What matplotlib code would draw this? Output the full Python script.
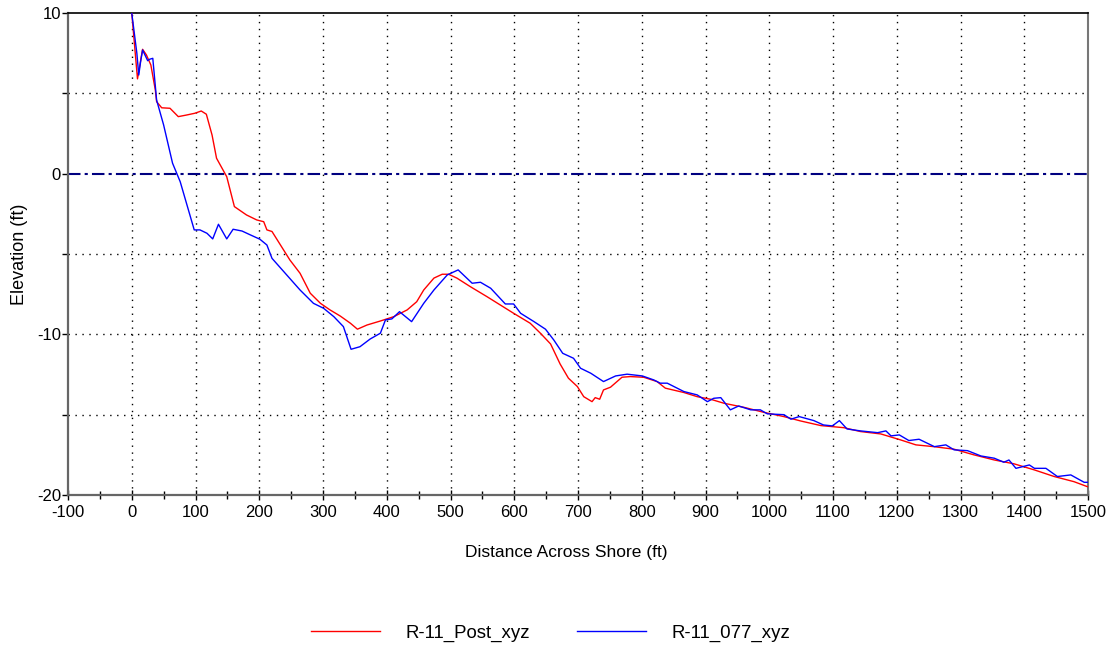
import numpy as np
import matplotlib
matplotlib.use("Agg")
import matplotlib.pyplot as plt
from matplotlib.ticker import MultipleLocator

plt.rcParams['font.family'] = ['Liberation Sans', 'DejaVu Sans']
plt.rcParams['axes.unicode_minus'] = False

# profile R-11_Post_xyz (red)
post_x = [0, 9, 17, 23, 30, 37, 39, 47, 60, 73, 86, 99, 109, 117, 126, 133, 149,
          161, 180, 196, 207, 212, 220, 248, 264, 280, 296, 311, 327, 343, 354,
          369, 390, 411, 432, 447, 458, 474, 487, 497, 510, 531, 557, 578, 599,
          625, 641, 657, 672, 685, 699, 709, 722, 727, 734, 740, 751, 769, 782,
          803, 824, 837, 866, 887, 908, 929, 960, 991, 1023, 1049, 1081, 1117,
          1143, 1175, 1206, 1230, 1258, 1290, 1321, 1353, 1384, 1416, 1447,
          1478, 1499]
post_y = [10.0, 5.9, 7.74, 7.39, 6.76, 5.2, 4.48, 4.1, 4.07, 3.55, 3.65, 3.76,
          3.9, 3.7, 2.4, 0.96, -0.19, -2.05, -2.57, -2.88, -2.99, -3.5, -3.6,
          -5.37, -6.2, -7.44, -8.07, -8.48, -8.86, -9.31, -9.68, -9.42, -9.17,
          -8.9, -8.48, -7.97, -7.24, -6.5, -6.26, -6.26, -6.5, -7.03, -7.65,
          -8.17, -8.69, -9.31, -9.93, -10.6, -11.85, -12.73, -13.25, -13.88,
          -14.19, -13.94, -14.04, -13.46, -13.29, -12.67, -12.63, -12.67,
          -12.94, -13.35, -13.62, -13.88, -14.04, -14.29, -14.54, -14.85,
          -15.12, -15.39, -15.68, -15.81, -16.05, -16.2, -16.57, -16.88,
          -16.99, -17.15, -17.5, -17.82, -18.06, -18.44, -18.85, -19.17, -19.48]

# profile R-11_077_xyz (blue)
pre_x = [0, 8, 11, 14, 17, 25, 28, 33, 39, 50, 64, 76, 98, 107, 118, 127, 136,
         149, 159, 173, 186, 201, 212, 220, 264, 285, 301, 317, 332, 344, 358,
         374, 390, 398, 408, 420, 439, 458, 474, 495, 512, 534, 547, 563, 586,
         599, 610, 631, 649, 662, 676, 693, 704, 720, 740, 759, 777, 801, 819,
         829, 840, 866, 887, 903, 913, 924, 939, 952, 971, 986, 997, 1023, 1034,
         1047, 1070, 1085, 1099, 1110, 1122, 1143, 1170, 1183, 1191, 1204,
         1219, 1235, 1259, 1277, 1290, 1311, 1332, 1353, 1368, 1376, 1387,
         1408, 1416, 1434, 1452, 1473, 1494, 1499]
pre_y = [10.0, 7.5, 6.14, 7.0, 7.7, 7.03, 7.12, 7.18, 4.58, 3.03, 0.65, -0.5,
         -3.5, -3.5, -3.71, -4.06, -3.15, -4.06, -3.46, -3.57, -3.81, -4.08,
         -4.44, -5.27, -7.24, -8.07, -8.38, -8.9, -9.52, -10.93, -10.77, -10.29,
         -9.93, -9.1, -9.04, -8.59, -9.21, -8.07, -7.24, -6.3, -5.99, -6.82,
         -6.76, -7.13, -8.11, -8.11, -8.69, -9.21, -9.68, -10.35, -11.18,
         -11.49, -12.11, -12.42, -12.94, -12.59, -12.48, -12.59, -12.84,
         -13.04, -13.04, -13.56, -13.77, -14.19, -13.98, -13.94, -14.7, -14.46,
         -14.7, -14.7, -14.95, -15.0, -15.28, -15.12, -15.37, -15.64, -15.7,
         -15.37, -15.89, -16.01, -16.12, -16.01, -16.32, -16.26, -16.61,
         -16.53, -16.99, -16.88, -17.19, -17.24, -17.57, -17.71, -17.96,
         -17.82, -18.34, -18.13, -18.34, -18.34, -18.85, -18.75, -19.21, -19.21]

x_ticks = list(range(-100, 1501, 100))
y_ticks = [-20, -10, 0, 10]


fig = plt.figure(figsize=(11.12, 6.58), dpi=100)
ax = fig.add_axes([68 / 1112, 1 - 495 / 658, 1020 / 1112, 482 / 658])

ax.plot(post_x, post_y, color='#ff0000', lw=1.0, label='R-11_Post_xyz', zorder=3)
ax.plot(pre_x, pre_y, color='#0000ff', lw=1.0, label='R-11_077_xyz', zorder=3)
ax.axhline(0, color='#000080', lw=1.5, ls=(0, (6, 2, 1.5, 2)), zorder=2)

ax.set_xlim(-100, 1500)
ax.set_ylim(-20, 10)
ax.set_xticks(x_ticks)
ax.set_yticks(y_ticks)
ax.xaxis.set_minor_locator(MultipleLocator(50))
ax.yaxis.set_minor_locator(MultipleLocator(5))

# dotted grid at every 100 ft and every 5 ft
for gx in x_ticks[1:-1]:
    ax.axvline(gx, color='black', lw=1.0, ls=(0, (1, 4)), zorder=1)
for gy in [-15, -10, -5, 5]:
    ax.axhline(gy, color='black', lw=1.0, ls=(0, (1, 4)), zorder=1)

ax.tick_params(axis='x', which='major', direction='inout', length=7,
               width=1, labelsize=12, colors='black')
ax.tick_params(axis='x', which='minor', direction='inout', length=6, width=1)
ax.tick_params(axis='y', which='both', direction='out', length=4, width=1,
               labelsize=12, pad=1)

for side in ['left', 'bottom']:
    ax.spines[side].set_color('#666666')
    ax.spines[side].set_linewidth(1.6)
ax.spines['top'].set_color('black')
ax.spines['top'].set_linewidth(1.2)
ax.spines['right'].set_color('#777777')
ax.spines['right'].set_linewidth(1.5)

ax.set_xlabel('Distance Across Shore (ft)', fontsize=12.5)
ax.xaxis.set_label_coords(0.488, -0.104)
ax.set_ylabel('Elevation (ft)', fontsize=13)
ax.yaxis.set_label_coords(-0.039, 0.5)

fig.legend(loc='center', bbox_to_anchor=(0.495, 1 - 633 / 658), ncol=2,
           frameon=False, fontsize=13.4, handlelength=3.75, handletextpad=1.35,
           columnspacing=2.5)

fig.savefig('out.png', dpi=100)
